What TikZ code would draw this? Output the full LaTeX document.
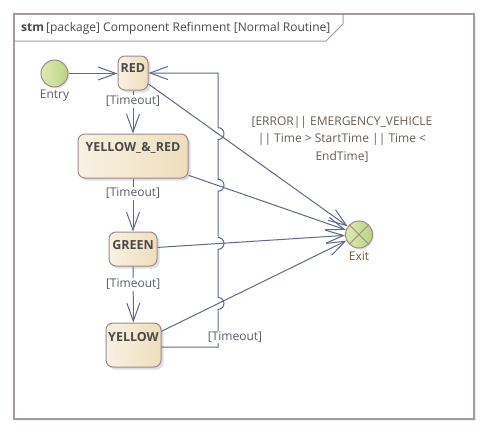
\documentclass[tikz,border=0pt]{standalone}
\usepackage{fontspec}
\setmainfont{Open Sans}
\usetikzlibrary{arrows.meta,shadows,calc}
\definecolor{linec}{HTML}{5E6A87}
\definecolor{framec}{HTML}{A89A9A}
\definecolor{stbord}{HTML}{A08A8A}
\definecolor{stL}{HTML}{F8F1E3}
\definecolor{stR}{HTML}{EEDEBC}
\definecolor{txtc}{HTML}{4A4A4A}
\definecolor{lblc}{HTML}{5A5E6E}
\definecolor{grdc}{HTML}{6A5E55}
\definecolor{grnL}{HTML}{DDE9B5}
\definecolor{grnR}{HTML}{BBD57F}
\definecolor{exitc}{HTML}{7A5535}
\begin{document}
\begin{tikzpicture}[x=1pt,y=-1pt,
  statebox/.style={draw=stbord, line width=1pt, rounded corners=7pt,
    left color=stL, right color=stR, inner sep=0pt,
    drop shadow={shadow xshift=2.5pt, shadow yshift=-2.5pt, opacity=0.25}},
  stext/.style={font=\bfseries\fontsize{12.5}{14}\selectfont, text=txtc, inner sep=0pt},
  tr/.style={draw=linec, line width=1pt, -{Straight Barb[length=18pt,width=13pt]}},
  lbl/.style={font=\fontsize{12}{14}\selectfont, text=lblc, fill=white, inner sep=1pt},
  pseudo/.style={draw=stbord, line width=1pt, left color=grnL, right color=grnR,
    circle, minimum size=27pt, inner sep=0pt,
    drop shadow={shadow xshift=1.5pt, shadow yshift=-1.5pt, opacity=0.2}}
]
\useasboundingbox (0,0) rectangle (489,434);
% frame
\fill[black!8] (16,16) rectangle (476,421);
\draw[framec, line width=2pt, fill=white] (14,14) rectangle (474,419);
\draw[framec, line width=1pt] (14,41) -- (326,41) -- (343,24) -- (343,14);
\node[anchor=base west, inner sep=0pt, text=txtc, font=\fontsize{12}{14}\selectfont] (hdr) at (21,31.5) {\textbf{stm}\,[package] Component Refinment [Normal Routine]};
% states
\node[pseudo] (entry) at (54.5,73.5) {};
\node[font=\fontsize{12}{14}\selectfont, text=lblc, inner sep=0pt] (entrylbl) at (54.5,96) {Entry};
\node[pseudo] (exit) at (359,234.5) {};
\draw[stbord, line width=1pt] ($(exit)+(-9.5,-9.5)$) -- ($(exit)+(9.5,9.5)$);
\draw[stbord, line width=1pt] ($(exit)+(-9.5,9.5)$) -- ($(exit)+(9.5,-9.5)$);
\node[font=\fontsize{12}{14}\selectfont, text=exitc, inner sep=0pt] (exitlbl) at (359,256) {Exit};

\node[statebox, minimum width=30pt, minimum height=34pt] (red) at (133,73) {};
\node[stext] (redt) at (133,68) {RED};
\node[statebox, minimum width=110pt, minimum height=44pt] (yr) at (133,156) {};
\node[stext] (yrt) at (133,147.5) {YELLOW\_\&\_RED};
\node[statebox, minimum width=48pt, minimum height=34pt] (green) at (133,249) {};
\node[stext] (greent) at (133,245) {GREEN};
\node[statebox, minimum width=55pt, minimum height=44pt] (yellow) at (133.5,345) {};
\node[stext] (yellowt) at (133.5,337) {YELLOW};

% transitions
\draw[tr] (entry.east) -- (entry.east -| red.west);
\draw[tr] (red) -- (yr) node[lbl, pos=0.25] (l1) {[Timeout]};
\draw[tr] (yr) -- (green) node[lbl, pos=0.28] (l2) {[Timeout]};
\draw[tr] (green) -- (yellow) node[lbl, pos=0.32] (l3) {[Timeout]};
\draw[tr] (red) -- (exit);
\draw[tr] (yr) -- (exit);
\draw[tr] (green) -- (exit);
\draw[tr] (yellow) -- (exit);
% loop with jumps
\coordinate (ls) at ($(yellow.east)+(0,2)$);
\draw[tr] (ls) -- (218,347) -- (218,309.4)
  arc[start angle=90, end angle=-90, radius=6] -- (218,249.4)
  arc[start angle=90, end angle=-90, radius=6] -- (218,191.3)
  arc[start angle=90, end angle=-90, radius=6] -- (218,139.6)
  arc[start angle=90, end angle=-90, radius=6] -- (218,73) -- (red.east);
\node[lbl] (l4) at (235,337) {[Timeout]};
\node[font=\fontsize{12}{17.5}\selectfont, text=grdc, align=center, inner sep=0pt] (guard) at (342,139) {[ERROR|| EMERGENCY\_VEHICLE\\|| Time > StartTime || Time <\\EndTime]};
\end{tikzpicture}
\end{document}
